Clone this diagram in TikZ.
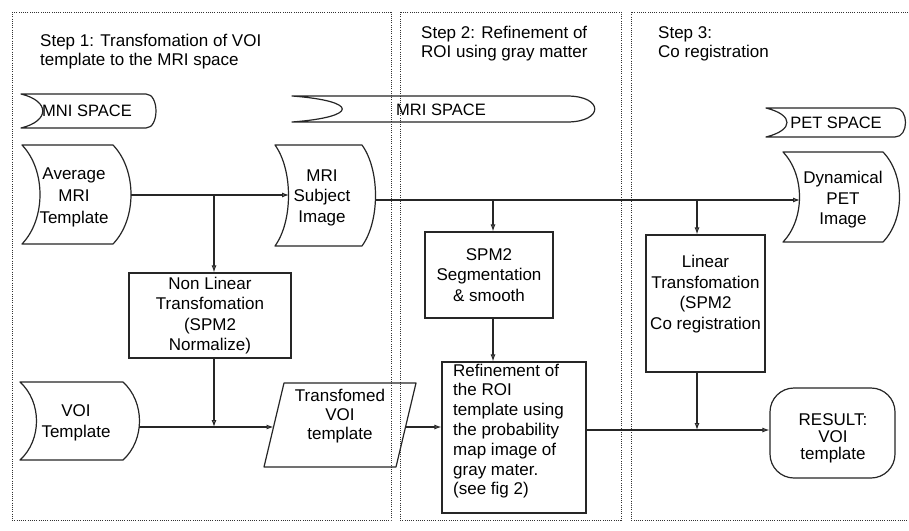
\documentclass[tikz,border=0pt]{standalone}
\usepackage{fontspec}
\setmainfont{Liberation Sans}
\usetikzlibrary{arrows.meta,calc}
\begin{document}
\begin{tikzpicture}[x=1pt,y=-1pt,
  shp/.style={draw=black!85, line width=1.2pt, line join=round},
  conn/.style={draw=black!85, line width=1.1pt, -{Latex[length=7pt,width=5pt,fill=gray!40]}},
  panel/.style={draw=black!80, line width=0.9pt, dash pattern=on 0.9pt off 1.3pt},
  txt/.style={font=\fontsize{17}{20.5}\selectfont, align=center, inner sep=0pt},
  box/.style={draw=black!85, line width=1.2pt, inner sep=0pt},
]
\useasboundingbox[fill=white] (0,0) rectangle (909,530);

% panels
\draw[panel] (12,12) rectangle (391,520);
\draw[panel] (400,12) rectangle (621,520);
\draw[panel] (908,12) -- (631,12) -- (631,520) -- (908,520);

% titles
\node[txt, align=left, anchor=west, font=\fontsize{17}{19}\selectfont] (t1) at (40,52) {Step 1: Transfomation of VOI\\template to the MRI space};
\node[txt, align=left, anchor=west, font=\fontsize{17}{19}\selectfont] (t2) at (421,44) {Step 2: Refinement of\\ROI using gray matter};
\node[txt, align=left, anchor=west, font=\fontsize{17}{19}\selectfont] (t3) at (658,44) {Step 3:\\Co registration};

% space tags
\draw[shp] (21,94) -- (146,94) .. controls (159.3,94) and (159.3,128) .. (146,128) -- (21,128) .. controls (50,121) and (50,101) .. cycle;
\node[txt, font=\fontsize{16.5}{20}\selectfont] (mni) at (87,111) {MNI SPACE};
\draw[shp] (292,96) -- (567,96) .. controls (604,96) and (604,122) .. (567,122) -- (292,122) .. controls (359,117) and (359,101) .. cycle;
\node[txt, font=\fontsize{16.5}{20}\selectfont] (mri) at (441,110) {MRI SPACE};
\draw[shp] (766,108) -- (895,108) .. controls (909,108) and (909,137) .. (895,137) -- (766,137) .. controls (794,130) and (794,115) .. cycle;
\node[txt, font=\fontsize{16.5}{20}\selectfont] (petspace) at (836,123) {PET SPACE};

% data shapes
\draw[shp] (22,145) -- (113,145) .. controls (137,170) and (137,219) .. (113,244) -- (22,244) .. controls (46,219) and (46,170) .. cycle;
\node[txt, font=\fontsize{17}{22}\selectfont] (avg) at (74,197) {Average\\MRI\\Template};
\coordinate (avgE) at (131,195);

\draw[shp] (275,145) -- (362,145) .. controls (380,170) and (380,221) .. (362,246) -- (275,246) .. controls (293,221) and (293,170) .. cycle;
\node[txt] (subj) at (322,197.5) {MRI\\Subject\\Image};
\coordinate (subjW) at (289,195);
\coordinate (subjE) at (376,200);

\draw[shp] (783,152) -- (883,152) .. controls (905,175) and (905,219) .. (883,242) -- (783,242) .. controls (805,219) and (805,175) .. cycle;
\node[txt] (pet) at (843,200) {Dynamical\\PET\\Image};
\coordinate (petW) at (800,200);

\draw[shp] (20,382) -- (123,382) .. controls (145,402) and (145,440) .. (123,460) -- (20,460) .. controls (42,440) and (42,402) .. cycle;
\node[txt] (voi) at (76,423) {VOI\\Template};
\coordinate (voiE) at (139,427);

\draw[shp] (284,383) -- (416,383) -- (396,467) -- (264,467) -- cycle;
\node[txt, font=\fontsize{17}{19}\selectfont] (tvoi) at (340,416) {Transfomed\\VOI\\template};
\coordinate (tvoiW) at (273.5,427);
\coordinate (tvoiE) at (405.5,427);

% process boxes
\node[box, txt, minimum width=162pt, minimum height=85pt] (nl) at (210,315.5) {Non Linear\\Transfomation\\(SPM2\\Normalize)};
\node[box, txt, minimum width=128pt, minimum height=86pt] (seg) at (489,275) {SPM2\\Segmentation\\\& smooth};
\node[box, minimum width=119pt, minimum height=137pt] (lin) at (705.5,303.5) {};
\node[txt] (lintxt) at (705.5,294) {Linear\\Transfomation\\(SPM2\\Co registration};
\node[box, minimum width=144pt, minimum height=151pt] (ref) at (514,437.5) {};
\node[txt, align=left, anchor=west, font=\fontsize{17}{19.8}\selectfont] (reftxt) at (453,431) {Refinement of\\the ROI\\template using\\the probability\\map image of\\gray mater.\\(see fig 2)};
\node[box, rounded corners=24pt, minimum width=125pt, minimum height=90pt] (res) at (832.5,433) {};
\node[txt, font=\fontsize{17}{17}\selectfont] (restxt) at (833,438) {RESULT:\\VOI\\template};

% connectors
\coordinate (j1) at (214,195);
\coordinate (j2) at (214,427);
\coordinate (j3) at (493,200);
\coordinate (j4) at (697,200);
\coordinate (j5) at (697,430);
\draw[conn] (avgE) -- (subjW);
\draw[conn] (j1) -- (j1 |- nl.north);
\draw[conn] (nl.south -| j1) -- (j2);
\draw[conn] (voiE) -- (tvoiW);
\draw[conn] (tvoiE) -- (tvoiE -| ref.west);
\draw[conn] (subjE) -- (petW);
\draw[conn] (j3) -- (j3 |- seg.north);
\draw[conn] (seg.south -| j3) -- (j3 |- ref.north);
\draw[conn] (j4) -- (j4 |- lin.north);
\draw[conn] (lin.south -| j4) -- (j5);
\draw[conn] (ref.east |- j5) -- (res.west |- j5);
\end{tikzpicture}
\end{document}
